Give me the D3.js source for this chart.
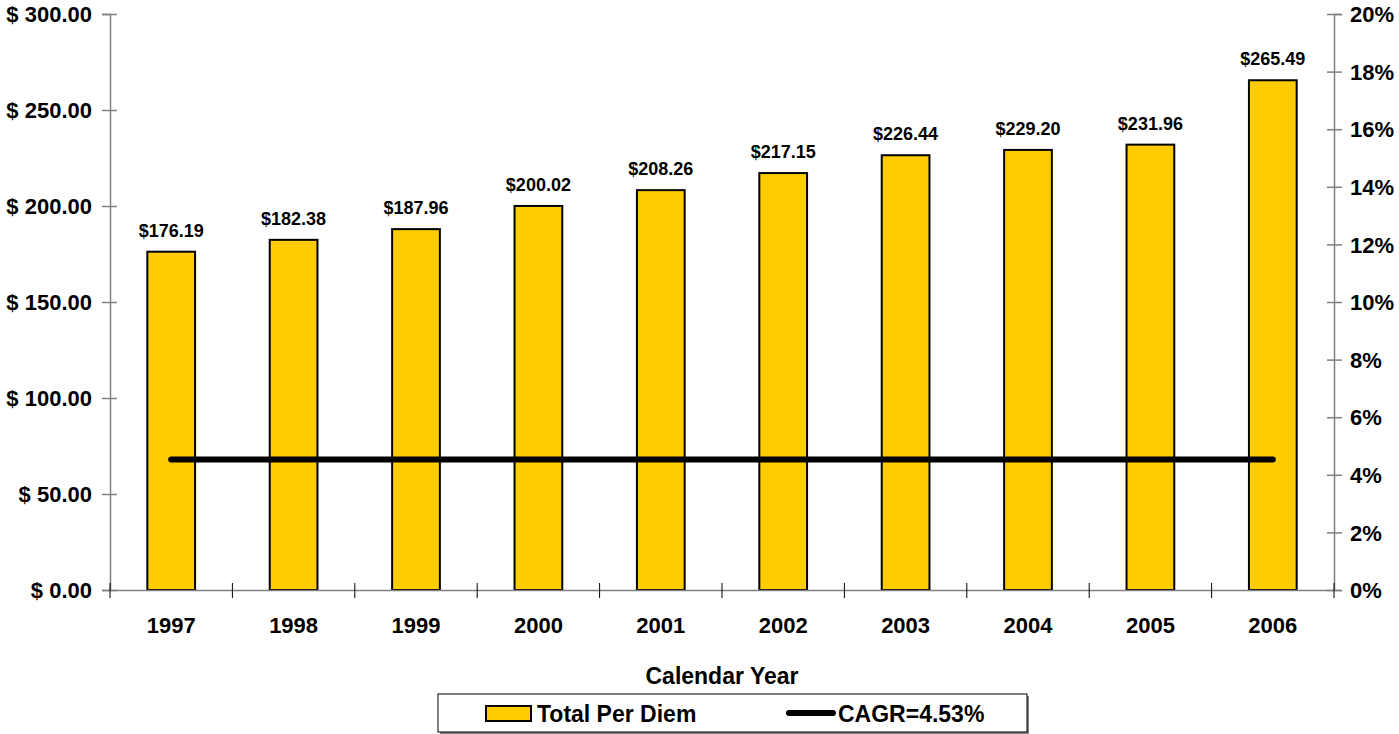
<!DOCTYPE html>
<html>
<head>
<meta charset="utf-8">
<script src="https://cdn.jsdelivr.net/npm/d3@7"></script>
<style>
  body { margin: 0; background: #fff; }
  svg text { font-family: "Liberation Sans", Arial, sans-serif; font-weight: bold; fill: #000; }
</style>
</head>
<body>
<div id="chart"></div>
<script>
// data
var years = ["1997", "1998", "1999", "2000", "2001", "2002", "2003", "2004", "2005", "2006"];
var perDiem = [176.19, 182.38, 187.96, 200.02, 208.26, 217.15, 226.44, 229.20, 231.96, 265.49];
var cagr = [4.53, 4.53, 4.53, 4.53, 4.53, 4.53, 4.53, 4.53, 4.53, 4.53];
var leftTicks = [0, 50, 100, 150, 200, 250, 300];
var rightTicks = [0, 2, 4, 6, 8, 10, 12, 14, 16, 18, 20];

var W = 1399, H = 734;
var plotLeft = 110, plotRight = 1334, plotTop = 14, plotBottom = 590;

var svg = d3.select("#chart")
    .append("svg")
    .attr("width", W)
    .attr("height", H);

var x = d3.scaleBand()
    .domain(years)
    .range([plotLeft, plotRight])
    .padding(0);

var yL = d3.scaleLinear().domain([0, 300]).range([plotBottom, plotTop]);
var yR = d3.scaleLinear().domain([0, 20]).range([plotBottom, plotTop]);

var barW = x.bandwidth() * 0.39;

// bars
svg.selectAll(".bar")
    .data(perDiem)
    .enter()
    .append("rect")
    .attr("class", "bar")
    .attr("x", function(d, i) { return x(years[i]) + x.bandwidth() / 2 - barW / 2; })
    .attr("y", function(d) { return yL(d); })
    .attr("width", barW)
    .attr("height", function(d) { return plotBottom - yL(d); })
    .attr("fill", "#FFCC00")
    .attr("stroke", "#000")
    .attr("stroke-width", 2);

// value labels
svg.selectAll(".val")
    .data(perDiem)
    .enter()
    .append("text")
    .attr("x", function(d, i) { return x(years[i]) + x.bandwidth() / 2; })
    .attr("y", function(d) { return yL(d) - 15; })
    .attr("text-anchor", "middle")
    .style("font-size", "18px")
    .text(function(d) { return "$" + d.toFixed(2); });

// left axis
var gL = svg.append("g")
    .attr("transform", "translate(" + plotLeft + ",0)")
    .call(d3.axisLeft(yL).tickValues(leftTicks).tickSize(8).tickPadding(10)
        .tickFormat(function(d) { return "$ " + d.toFixed(2); }));
gL.selectAll(".tick line").attr("x1", 7);
gL.selectAll(".tick text").style("font-size", "22px").attr("dy", "0.35em");

// right axis
var gR = svg.append("g")
    .attr("transform", "translate(" + plotRight + ",0)")
    .call(d3.axisRight(yR).tickValues(rightTicks).tickSize(8).tickPadding(8)
        .tickFormat(function(d) { return d + "%"; }));
gR.selectAll(".tick line").attr("x1", -7);
gR.selectAll(".tick text").style("font-size", "22px").attr("dy", "0.35em");

// bottom axis: labels at band centres
var gX = svg.append("g")
    .attr("transform", "translate(0," + plotBottom + ")")
    .call(d3.axisBottom(x).tickSize(0).tickPadding(27));
gX.selectAll(".tick text").style("font-size", "22px");

// tick marks at band boundaries
var bounds = x.domain().map(function(d) { return x(d); }).concat([plotRight]);
gX.selectAll(".sep")
    .data(bounds)
    .enter()
    .append("line")
    .attr("class", "sep")
    .attr("x1", function(d) { return d; })
    .attr("x2", function(d) { return d; })
    .attr("y1", -7)
    .attr("y2", 8);

svg.selectAll(".domain, .tick line").attr("stroke", "#808080").attr("stroke-width", 1.5);
gX.selectAll(".sep").attr("stroke", "#000").attr("stroke-width", 1);

// CAGR line
var line = d3.line()
    .x(function(d, i) { return x(years[i]) + x.bandwidth() / 2; })
    .y(function(d) { return yR(d); });

svg.append("path")
    .datum(cagr)
    .attr("d", line)
    .attr("fill", "none")
    .attr("stroke", "#000")
    .attr("stroke-width", 6)
    .attr("stroke-linecap", "round");

// x title
svg.append("text")
    .attr("x", (plotLeft + plotRight) / 2)
    .attr("y", 684)
    .attr("text-anchor", "middle")
    .style("font-size", "23px")
    .text("Calendar Year");

// legend
var lg = svg.append("g");
lg.append("rect")
    .attr("x", 440).attr("y", 696).attr("width", 589).attr("height", 38)
    .attr("fill", "#808080");
lg.append("rect")
    .attr("x", 438).attr("y", 694).attr("width", 589).attr("height", 38)
    .attr("fill", "#fff").attr("stroke", "#000").attr("stroke-width", 1);
lg.append("rect")
    .attr("x", 486).attr("y", 706).attr("width", 45).attr("height", 15)
    .attr("fill", "#FFCC00").attr("stroke", "#000").attr("stroke-width", 2);
lg.append("text")
    .attr("x", 537).attr("y", 722)
    .style("font-size", "23px")
    .text("Total Per Diem");
lg.append("line")
    .attr("x1", 789).attr("x2", 833).attr("y1", 713).attr("y2", 713)
    .attr("stroke", "#000").attr("stroke-width", 6).attr("stroke-linecap", "round");
lg.append("text")
    .attr("x", 838).attr("y", 722)
    .style("font-size", "23px")
    .text("CAGR=4.53%");
</script>
</body>
</html>
